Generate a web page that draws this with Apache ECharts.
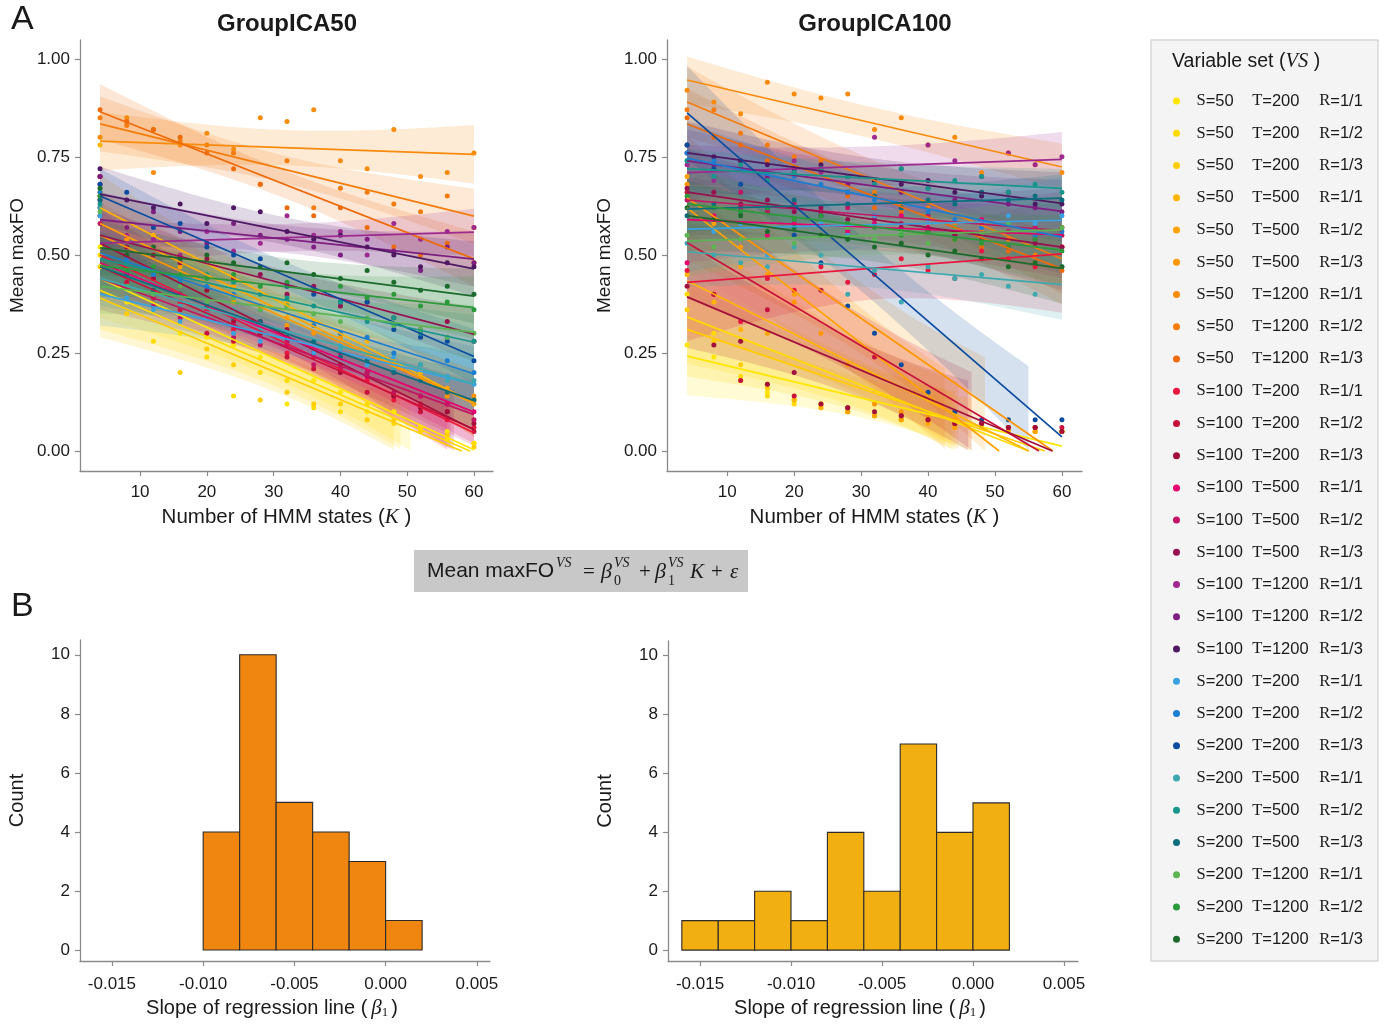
<!DOCTYPE html>
<html>
<head>
<meta charset="UTF-8">
<title>Mean maxFO regression</title>
<script src="https://cdn.jsdelivr.net/npm/echarts@6.0.0/dist/echarts.min.js"></script>
<style>
  html, body { margin: 0; padding: 0; background: #fff; }
  #main { width: 1390px; height: 1024px; }
</style>
</head>
<body>
<div id="main"></div>
<script>
// variable sets
var sVals = ['50','50','50','50','50','50','50','50','50',
             '100','100','100','100','100','100','100','100','100',
             '200','200','200','200','200','200','200','200','200'];
var tVals = ['200','200','200','500','500','500','1200','1200','1200',
             '200','200','200','500','500','500','1200','1200','1200',
             '200','200','200','500','500','500','1200','1200','1200'];
var rVals = ['1/1','1/2','1/3','1/1','1/2','1/3','1/1','1/2','1/3',
             '1/1','1/2','1/3','1/1','1/2','1/3','1/1','1/2','1/3',
             '1/1','1/2','1/3','1/1','1/2','1/3','1/1','1/2','1/3'];
var vsNames = sVals.map(function (s, i) { return 'S=' + s + ' T=' + tVals[i] + ' R=' + rVals[i]; });
var vsColors = [
  '#FFE600','#FFDA00','#FFCD00',
  '#FFB400','#FFA300','#FD9600',
  '#F88A0C','#F47C0C','#EE6B0C',
  '#E9173F','#C8123C','#A20F3B',
  '#E6006F','#C31563','#97104F',
  '#9E2A8F','#7D1E80','#4E1862',
  '#39A3E1','#1C7ED0','#0B4C9E',
  '#3DA9AF','#179689','#0B6E7F',
  '#5CB552','#2B9A3B','#1C6B2D'
];

// number of HMM states
var kVals = [4, 8, 12, 16, 20, 24, 28, 32, 36, 40, 44, 48, 52, 56, 60];
var kTicks = [10, 20, 30, 40, 50, 60];
var foTicks = [0, 0.25, 0.5, 0.75, 1.0];

// GroupICA50: mean maxFO per K
var ptsA = [
  [0.52,0.42,0.36,0.30,0.29,0.27,0.24,0.12,0.18,0.15,0.10,0.10,0.06,0.05,0.02],
  [0.50,0.38,0.28,0.33,0.24,0.14,0.20,0.18,0.11,0.10,0.12,0.07,0.06,0.03,0.02],
  [0.47,0.35,0.36,0.20,0.26,0.22,0.13,0.15,0.12,0.12,0.08,0.08,0.05,0.04,0.01],
  [0.78,0.57,0.55,0.50,0.49,0.44,0.40,0.38,0.32,0.30,0.28,0.22,0.20,0.15,0.13],
  [0.70,0.55,0.50,0.47,0.45,0.42,0.37,0.34,0.33,0.27,0.25,0.23,0.18,0.16,0.12],
  [0.66,0.54,0.47,0.45,0.44,0.38,0.37,0.32,0.30,0.29,0.23,0.22,0.19,0.14,0.14],
  [0.80,0.85,0.71,0.78,0.81,0.77,0.85,0.84,0.87,0.74,0.72,0.82,0.70,0.71,0.76],
  [0.85,0.83,0.82,0.79,0.78,0.76,0.68,0.74,0.62,0.67,0.66,0.63,0.61,0.65,0.57],
  [0.87,0.84,0.82,0.80,0.76,0.72,0.68,0.62,0.60,0.62,0.57,0.52,0.50,0.53,0.48],
  [0.62,0.45,0.44,0.38,0.36,0.31,0.33,0.25,0.24,0.21,0.18,0.13,0.12,0.08,0.06],
  [0.60,0.43,0.39,0.36,0.30,0.28,0.30,0.24,0.21,0.22,0.15,0.14,0.10,0.10,0.05],
  [0.65,0.50,0.44,0.40,0.41,0.33,0.30,0.31,0.25,0.20,0.20,0.14,0.11,0.10,0.07],
  [0.64,0.46,0.40,0.42,0.35,0.32,0.33,0.27,0.25,0.25,0.19,0.20,0.14,0.12,0.10],
  [0.58,0.41,0.37,0.34,0.35,0.29,0.27,0.28,0.22,0.21,0.20,0.15,0.14,0.12,0.08],
  [0.70,0.52,0.50,0.48,0.49,0.44,0.45,0.40,0.42,0.37,0.38,0.34,0.31,0.33,0.28],
  [0.68,0.55,0.54,0.50,0.56,0.51,0.53,0.60,0.55,0.56,0.50,0.58,0.54,0.56,0.57],
  [0.70,0.57,0.61,0.56,0.53,0.58,0.55,0.54,0.52,0.50,0.54,0.51,0.46,0.52,0.48],
  [0.72,0.64,0.62,0.63,0.58,0.62,0.61,0.56,0.54,0.55,0.52,0.50,0.47,0.48,0.47],
  [0.60,0.39,0.36,0.33,0.35,0.30,0.28,0.30,0.25,0.27,0.22,0.24,0.18,0.19,0.17],
  [0.66,0.49,0.45,0.43,0.42,0.40,0.36,0.37,0.32,0.30,0.29,0.25,0.22,0.23,0.20],
  [0.68,0.66,0.57,0.58,0.52,0.50,0.49,0.42,0.40,0.38,0.38,0.31,0.29,0.28,0.23],
  [0.62,0.41,0.40,0.37,0.35,0.36,0.31,0.30,0.28,0.26,0.25,0.21,0.22,0.18,0.18],
  [0.63,0.48,0.47,0.44,0.45,0.43,0.40,0.39,0.37,0.38,0.33,0.34,0.30,0.29,0.28],
  [0.64,0.45,0.41,0.40,0.37,0.34,0.33,0.29,0.28,0.24,0.23,0.20,0.18,0.15,0.13],
  [0.61,0.42,0.40,0.42,0.38,0.39,0.36,0.37,0.35,0.33,0.34,0.32,0.31,0.29,0.30],
  [0.65,0.46,0.47,0.45,0.44,0.45,0.42,0.43,0.41,0.42,0.39,0.40,0.37,0.38,0.36],
  [0.67,0.50,0.52,0.49,0.50,0.48,0.47,0.48,0.45,0.44,0.46,0.43,0.41,0.42,0.40]
];
// fitted line: value at K=4 and slope
var startA = [0.44,0.41,0.39,0.62,0.58,0.55,0.79,0.834,0.865,0.50,0.47,0.53,0.48,0.44,0.55,0.53,0.59,0.655,
              0.40,0.505,0.65,0.44,0.49,0.47,0.42,0.472,0.518];
var slopeA = [-0.0078,-0.0074,-0.0072,-0.0089,-0.0082,-0.0076,-0.0006,-0.0042,-0.0067,
              -0.0081,-0.0074,-0.0085,-0.0068,-0.0062,-0.0045,0.0005,-0.0018,-0.0034,
              -0.0041,-0.0055,-0.0073,-0.0048,-0.0038,-0.0061,-0.0021,-0.0019,-0.0022];
// confidence band half-width at the middle and at the ends
var bandMidA = [0.05,0.05,0.05,0.04,0.04,0.04,0.045,0.035,0.035,0.04,0.04,0.04,0.04,0.04,0.035,
                0.035,0.035,0.035,0.04,0.035,0.035,0.035,0.035,0.035,0.035,0.04,0.035];
var bandEndA = [0.10,0.10,0.10,0.085,0.085,0.085,0.075,0.07,0.07,0.085,0.085,0.085,0.08,0.08,0.07,
                0.06,0.07,0.07,0.08,0.07,0.07,0.07,0.07,0.07,0.07,0.08,0.07];

// GroupICA100
var ptsB = [
  [0.27,0.24,0.18,0.15,0.13,0.12,0.11,0.09,0.08,0.08,0.07,0.06,0.06,0.06,0.05],
  [0.40,0.30,0.19,0.14,0.12,0.11,0.10,0.09,0.08,0.07,0.07,0.06,0.06,0.05,0.05],
  [0.36,0.28,0.22,0.16,0.13,0.12,0.10,0.09,0.08,0.08,0.07,0.06,0.05,0.05,0.05],
  [0.45,0.38,0.31,0.17,0.13,0.11,0.10,0.09,0.08,0.08,0.06,0.06,0.06,0.05,0.05],
  [0.70,0.58,0.47,0.30,0.40,0.12,0.10,0.09,0.08,0.07,0.06,0.06,0.05,0.05,0.05],
  [0.68,0.62,0.52,0.45,0.38,0.30,0.22,0.12,0.10,0.09,0.08,0.07,0.06,0.06,0.05],
  [0.92,0.89,0.86,0.94,0.91,0.90,0.91,0.82,0.85,0.78,0.80,0.71,0.76,0.73,0.71],
  [0.87,0.87,0.81,0.78,0.75,0.74,0.70,0.66,0.63,0.62,0.58,0.56,0.54,0.50,0.52],
  [0.85,0.80,0.78,0.74,0.70,0.68,0.65,0.62,0.61,0.57,0.54,0.52,0.51,0.48,0.46],
  [0.46,0.40,0.33,0.44,0.41,0.47,0.43,0.45,0.49,0.46,0.44,0.51,0.49,0.47,0.52],
  [0.66,0.40,0.18,0.36,0.14,0.41,0.11,0.24,0.09,0.08,0.07,0.07,0.06,0.06,0.06],
  [0.42,0.27,0.28,0.17,0.20,0.12,0.11,0.10,0.09,0.08,0.07,0.07,0.06,0.06,0.05],
  [0.48,0.60,0.62,0.55,0.58,0.61,0.56,0.58,0.60,0.57,0.55,0.59,0.56,0.54,0.57],
  [0.64,0.62,0.66,0.61,0.63,0.60,0.62,0.59,0.58,0.60,0.57,0.58,0.56,0.57,0.55],
  [0.67,0.66,0.63,0.64,0.61,0.62,0.59,0.60,0.57,0.56,0.55,0.54,0.52,0.53,0.52],
  [0.73,0.69,0.72,0.70,0.74,0.71,0.66,0.80,0.72,0.78,0.74,0.70,0.76,0.73,0.75],
  [0.76,0.73,0.74,0.70,0.71,0.72,0.68,0.69,0.66,0.67,0.64,0.66,0.63,0.62,0.61],
  [0.78,0.75,0.74,0.73,0.72,0.73,0.70,0.69,0.68,0.69,0.66,0.65,0.66,0.63,0.63],
  [0.74,0.56,0.58,0.50,0.57,0.58,0.55,0.60,0.56,0.59,0.57,0.55,0.60,0.58,0.60],
  [0.76,0.74,0.72,0.71,0.70,0.68,0.66,0.64,0.62,0.61,0.59,0.57,0.58,0.55,0.56],
  [0.78,0.72,0.68,0.62,0.55,0.48,0.37,0.30,0.22,0.15,0.10,0.08,0.08,0.08,0.08],
  [0.53,0.50,0.48,0.47,0.52,0.50,0.40,0.46,0.38,0.47,0.44,0.45,0.42,0.40,0.47],
  [0.74,0.70,0.73,0.69,0.71,0.72,0.70,0.68,0.72,0.67,0.69,0.70,0.66,0.68,0.66],
  [0.60,0.63,0.61,0.62,0.64,0.60,0.63,0.65,0.62,0.64,0.63,0.66,0.64,0.65,0.64],
  [0.55,0.52,0.54,0.56,0.53,0.55,0.57,0.54,0.56,0.53,0.57,0.55,0.58,0.56,0.57],
  [0.65,0.62,0.61,0.62,0.59,0.60,0.58,0.57,0.55,0.56,0.54,0.53,0.52,0.54,0.51],
  [0.62,0.59,0.60,0.56,0.57,0.55,0.54,0.52,0.53,0.50,0.51,0.49,0.47,0.48,0.47]
];
var startB = [0.242,0.342,0.31,0.434,0.62,0.645,0.946,0.89,0.834,0.43,0.531,0.393,0.59,0.64,0.66,
              0.71,0.74,0.76,0.566,0.747,0.862,0.508,0.72,0.617,0.536,0.63,0.60];
var slopeB = [-0.0041,-0.0067,-0.0058,-0.0085,-0.0133,-0.0118,-0.00396,-0.00714,-0.0066,
              0.0013,-0.0101,-0.0072,-0.0007,-0.0014,-0.0025,0.0006,-0.0023,-0.0023,
              0.0004,-0.0036,-0.01475,-0.0015,-0.0009,0.0005,0.0005,-0.0021,-0.0024];
var bandMidB = [0.05,0.06,0.06,0.07,0.09,0.09,0.04,0.05,0.05,0.08,0.08,0.07,0.06,0.06,0.06,
                0.05,0.05,0.05,0.06,0.05,0.07,0.05,0.04,0.04,0.05,0.05,0.05];
var bandEndB = [0.10,0.12,0.12,0.13,0.16,0.16,0.06,0.09,0.09,0.15,0.14,0.13,0.11,0.11,0.11,
                0.07,0.08,0.08,0.11,0.09,0.12,0.09,0.05,0.06,0.09,0.09,0.09];

// histograms of slopes
var binEdgesA = [-0.010,-0.008,-0.006,-0.004,-0.002,0.000,0.002];
var countsA = [4, 10, 5, 4, 3, 1];
var binEdgesB = [-0.016,-0.014,-0.012,-0.010,-0.008,-0.006,-0.004,-0.002,0.000,0.002];
var countsB = [1, 1, 2, 1, 4, 2, 7, 4, 5];
var slopeTicks = [-0.015, -0.010, -0.005, 0.000, 0.005];
var countTicks = [0, 2, 4, 6, 8, 10];

var SANS = 'Liberation Sans, Arial, sans-serif';
var SERIF = 'Liberation Serif, Times New Roman, serif';
var AXIS = '#8a8a8a';
var INK = '#1a1a1a';

function valueAxis(grid, min, max, ticks, fmt, extra) {
  var ax = {
    gridIndex: grid, type: 'value', min: min, max: max,
    axisLine: { show: true, onZero: false, lineStyle: { color: AXIS, width: 1.3 } },
    axisTick: { show: true, length: 5, customValues: ticks, lineStyle: { color: AXIS, width: 1.2 } },
    axisLabel: { customValues: ticks, formatter: fmt, fontSize: 17, color: INK, fontFamily: SANS },
    splitLine: { show: false }
  };
  for (var k in extra) ax[k] = extra[k];
  return ax;
}

var kName = {
  name: '{a|Number of HMM states (}{k|K}{a| )}', nameLocation: 'middle', nameGap: 36,
  nameTextStyle: { rich: {
    a: { fontSize: 20.5, fontFamily: SANS, color: INK },
    k: { fontSize: 21, fontFamily: SERIF, fontStyle: 'italic', color: INK } } }
};
var foName = {
  name: 'Mean maxFO', nameLocation: 'middle', nameGap: 53,
  nameTextStyle: { fontSize: 19, fontFamily: SANS, color: INK }
};
var slopeName = {
  name: '{a|Slope of regression line (}{b|β}{s|1}{a|)}', nameLocation: 'middle', nameGap: 37,
  nameTextStyle: { padding: [0, 26, 0, 0], rich: {
    a: { fontSize: 20, fontFamily: SANS, color: INK },
    b: { fontSize: 21, fontFamily: SERIF, fontStyle: 'italic', color: INK, padding: [0, 0, 0, 4] },
    s: { fontSize: 13, fontFamily: SERIF, color: INK, verticalAlign: 'bottom', padding: [8, 3, 0, 0] } } }
};
var countName = {
  name: 'Count', nameLocation: 'middle', nameGap: 53,
  nameTextStyle: { fontSize: 20, fontFamily: SANS, color: INK }
};

function fmt2(v) { return v.toFixed(2); }
function fmt3(v) { return v.toFixed(3); }
function fmt0(v) { return String(v); }

var xAxes = [
  valueAxis(0, 1, 62.85, kTicks, fmt0, Object.assign({}, kName)),
  valueAxis(1, 1, 63, kTicks, fmt0, Object.assign({}, kName)),
  valueAxis(2, -0.01675, 0.00572, slopeTicks, fmt3, Object.assign({}, slopeName)),
  valueAxis(3, -0.01676, 0.00577, slopeTicks, fmt3, Object.assign({}, slopeName))
];
var yAxes = [
  valueAxis(0, -0.051, 1.048, foTicks, fmt2, Object.assign({}, foName)),
  valueAxis(1, -0.051, 1.048, foTicks, fmt2, Object.assign({}, foName)),
  valueAxis(2, -0.37, 10.5, countTicks, fmt0, Object.assign({}, countName)),
  valueAxis(3, -0.37, 10.5, countTicks, fmt0, Object.assign({}, countName))
];
xAxes[0].axisLabel.margin = 13;
xAxes[1].axisLabel.margin = 13;
xAxes[2].axisLabel.margin = 15;
xAxes[3].axisLabel.margin = 15;
yAxes.forEach(function (a) { a.axisLabel.margin = 10; });

var series = [];

function addPanel(ai, starts, slopes, pts, bMid, bEnd) {
  // confidence bands (cut where the lower edge falls below zero)
  var bands = starts.map(function (v0, i) {
    var out = [];
    for (var k = 4; k <= 60.001; k += 0.5) {
      var c = v0 + slopes[i] * (k - 4);
      var u = (k - 32) / 28;
      var hw = Math.sqrt(bMid[i] * bMid[i] + (bEnd[i] * bEnd[i] - bMid[i] * bMid[i]) * u * u);
      if (c - hw < 0) break;
      out.push([k, c - hw, c + hw]);
    }
    return out;
  });
  series.push({
    type: 'custom', xAxisIndex: ai, yAxisIndex: ai, z: 1, silent: true, clip: true,
    data: starts.map(function () { return [30, 0.5]; }),
    renderItem: function (params, api) {
      var b = bands[params.dataIndex];
      if (b.length < 2) return null;
      var poly = [];
      for (var j = 0; j < b.length; j++) poly.push(api.coord([b[j][0], b[j][2]]));
      for (var j2 = b.length - 1; j2 >= 0; j2--) poly.push(api.coord([b[j2][0], b[j2][1]]));
      return { type: 'polygon', shape: { points: poly },
               style: { fill: vsColors[params.dataIndex], opacity: 0.17 } };
    }
  });
  pts.forEach(function (row, i) {
    series.push({
      type: 'scatter', name: vsNames[i], xAxisIndex: ai, yAxisIndex: ai, z: 3,
      symbolSize: 5, itemStyle: { color: vsColors[i], opacity: 1 },
      data: row.map(function (v, j) { return [kVals[j], v]; })
    });
  });
  starts.forEach(function (v0, i) {
    var kEnd = 60;
    if (v0 + slopes[i] * 56 < 0) kEnd = 4 - v0 / slopes[i];
    series.push({
      type: 'line', xAxisIndex: ai, yAxisIndex: ai, z: 4, silent: true,
      symbol: 'none', lineStyle: { color: vsColors[i], width: 1.7 },
      data: [[4, v0], [kEnd, v0 + slopes[i] * (kEnd - 4)]]
    });
  });
}
addPanel(0, startA, slopeA, ptsA, bandMidA, bandEndA);
addPanel(1, startB, slopeB, ptsB, bandMidB, bandEndB);

function histSeries(ai, edges, counts, color) {
  return {
    type: 'custom', xAxisIndex: ai, yAxisIndex: ai, silent: true,
    encode: { x: [0, 1], y: 2 },
    data: counts.map(function (c, i) { return [edges[i], edges[i + 1], c]; }),
    renderItem: function (params, api) {
      var p0 = api.coord([api.value(0), api.value(2)]);
      var p1 = api.coord([api.value(1), 0]);
      return { type: 'rect', shape: { x: p0[0], y: p0[1], width: p1[0] - p0[0], height: p1[1] - p0[1] },
               style: { fill: color, stroke: '#2b2b2b', lineWidth: 1.1 } };
    }
  };
}
series.push(histSeries(2, binEdgesA, countsA, '#F08510'));
series.push(histSeries(3, binEdgesB, countsB, '#F2AF11'));

function txt(x, y, text, size, opts) {
  var st = { text: text, fontSize: size, fontFamily: SANS, fill: INK, align: 'left', verticalAlign: 'middle' };
  for (var k in opts) st[k] = opts[k];
  return { type: 'text', x: x, y: y, style: st, z: 10 };
}
var supS = { fontFamily: SERIF, fontStyle: 'italic' };
var graphic = [
  txt(11, 20, 'A', 34),
  txt(11, 607, 'B', 34),
  txt(287, 24, 'GroupICA50', 24, { fontWeight: 'bold', align: 'center' }),
  txt(875, 24, 'GroupICA100', 24, { fontWeight: 'bold', align: 'center' }),
  // formula box
  { type: 'rect', shape: { x: 414, y: 550, width: 334, height: 42 }, style: { fill: '#c8c8c8' }, z: 5 },
  txt(427, 571, 'Mean maxFO', 21),
  txt(556, 563, 'VS', 14, supS),
  txt(583, 572, '=', 21, { fontFamily: SERIF }),
  txt(601, 572, 'β', 22, supS),
  txt(614, 563, 'VS', 14, supS),
  txt(614, 581, '0', 14, { fontFamily: SERIF }),
  txt(639, 572, '+', 21, { fontFamily: SERIF }),
  txt(655, 572, 'β', 22, supS),
  txt(668, 563, 'VS', 14, supS),
  txt(668, 581, '1', 14, { fontFamily: SERIF }),
  txt(690, 572, 'K', 21, supS),
  txt(711, 572, '+', 21, { fontFamily: SERIF }),
  txt(730, 572, 'ε', 21, supS),
  // legend box
  { type: 'rect', shape: { x: 1151, y: 40, width: 227, height: 921 },
    style: { fill: '#f4f4f4', stroke: '#d8d8d8', lineWidth: 1.5 }, z: -5 },
  { type: 'text', x: 1172, y: 62, z: 10, style: {
      text: '{a|Variable set (}{i|VS}{a| )}', verticalAlign: 'middle',
      rich: { a: { fontSize: 19.5, fontFamily: SANS, fill: INK },
              i: { fontSize: 20.5, fontFamily: SERIF, fontStyle: 'italic', fill: INK } } } }
];

var option = {
  animation: false,
  backgroundColor: '#ffffff',
  grid: [
    { left: 80, top: 40, width: 413, height: 431, outerBoundsMode: 'none' },
    { left: 667, top: 40, width: 415, height: 431, outerBoundsMode: 'none' },
    { left: 80, top: 640, width: 410, height: 321, outerBoundsMode: 'none' },
    { left: 668, top: 641, width: 410, height: 320, outerBoundsMode: 'none' }
  ],
  xAxis: xAxes,
  yAxis: yAxes,
  legend: {
    data: vsNames, orient: 'vertical', left: 1168, top: 87,
    itemWidth: 30, itemHeight: 7, itemGap: 14.24, icon: 'circle', selectedMode: false,
    formatter: function (name) {
      var p = name.split(' ');
      return '{k|S}{v1|' + p[0].slice(1) + '}{k|T}{v2|' + p[1].slice(1) + '}{k|R}{v3|' + p[2].slice(1) + '}';
    },
    textStyle: {
      fontSize: 16, color: INK, lineHeight: 18,
      rich: {
        k: { fontSize: 16.5, fontFamily: SERIF, color: INK, lineHeight: 18 },
        v1: { fontSize: 16.5, fontFamily: SANS, color: INK, width: 46.5, lineHeight: 18 },
        v2: { fontSize: 16.5, fontFamily: SANS, color: INK, width: 57, lineHeight: 18 },
        v3: { fontSize: 16.5, fontFamily: SANS, color: INK, lineHeight: 18 }
      }
    }
  },
  graphic: graphic,
  series: series
};

var myChart = echarts.init(document.getElementById('main'));
myChart.setOption(option);
</script>
</body>
</html>
